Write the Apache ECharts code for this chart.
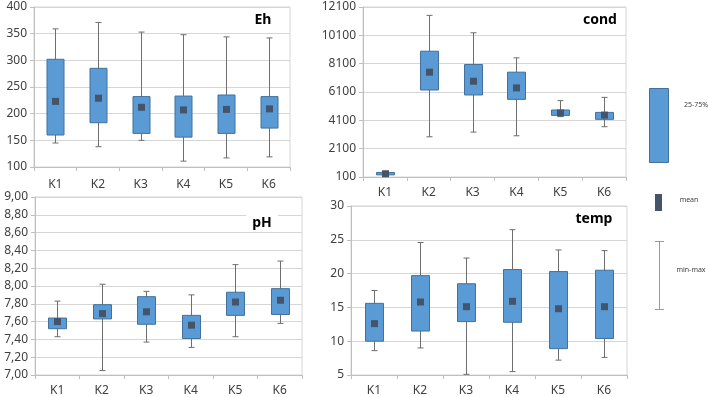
<!DOCTYPE html>
<html>
<head>
<meta charset="utf-8">
<script src="https://cdn.jsdelivr.net/npm/echarts@6/dist/echarts.min.js"></script>
<style>
  html, body { margin: 0; padding: 0; background: #fff; }
  #chart { width: 708px; height: 397px; }
</style>
</head>
<body>
<div id="chart"></div>
<script>
  var categories = ['K1', 'K2', 'K3', 'K4', 'K5', 'K6'];

  // Eh
  var ehMin = [145, 138, 150, 111, 117, 119];
  var ehQ1 = [160, 183, 163, 156, 163, 173];
  var ehMean = [223, 229, 212, 207, 208, 209];
  var ehQ3 = [302, 285, 232, 233, 235, 232];
  var ehMax = [359, 371, 353, 348, 344, 342];

  // cond
  var condMin = [200, 2940, 3270, 3010, 4360, 3650];
  var condQ1 = [250, 6240, 5890, 5580, 4450, 4170];
  var condMean = [330, 7500, 6860, 6390, 4620, 4470];
  var condQ3 = [420, 8980, 8040, 7500, 4830, 4660];
  var condMax = [480, 11510, 10280, 8510, 5490, 5720];

  // pH
  var phMin = [7.43, 7.05, 7.37, 7.31, 7.43, 7.58];
  var phQ1 = [7.52, 7.63, 7.57, 7.41, 7.67, 7.68];
  var phMean = [7.60, 7.69, 7.71, 7.56, 7.82, 7.84];
  var phQ3 = [7.64, 7.79, 7.88, 7.67, 7.93, 7.97];
  var phMax = [7.83, 8.02, 7.94, 7.90, 8.24, 8.28];

  // temp
  var tempMin = [8.6, 9.0, 5.1, 5.5, 7.2, 7.6];
  var tempQ1 = [10.0, 11.5, 12.9, 12.8, 8.9, 10.4];
  var tempMean = [12.6, 15.8, 15.1, 15.9, 14.8, 15.1];
  var tempQ3 = [15.6, 19.7, 18.5, 20.6, 20.3, 20.5];
  var tempMax = [17.5, 24.6, 22.3, 26.5, 23.5, 23.4];

  var boxFill = '#5B9BD5';
  var boxStroke = '#41719C';
  var meanColor = '#44546A';
  var whiskerColor = '#6E6E6E';
  var gridColor = '#D6D6D6';
  var textColor = '#404040';
  var fontFamily = 'Noto Sans';

  var myChart = echarts.init(document.getElementById('chart'));

  // cond axis runs 100..12100 in steps of 2000, so it is shifted by 100
  var condShift = 100;

  function buildRows (mins, q1s, means, q3s, maxs, shift) {
    var s = shift || 0;
    return categories.map(function (c, i) {
      return [i, mins[i] - s, q1s[i] - s, means[i] - s, q3s[i] - s, maxs[i] - s];
    });
  }

  function renderBox (params, api) {
    var i = api.value(0);
    var pMin = api.coord([i, api.value(1)]);
    var pQ1 = api.coord([i, api.value(2)]);
    var pMean = api.coord([i, api.value(3)]);
    var pQ3 = api.coord([i, api.value(4)]);
    var pMax = api.coord([i, api.value(5)]);
    var x = Math.round(pMin[0]) + 0.5;
    var bw = Math.round(api.size([1, 0])[0] * 0.4);
    var cap = 3;
    return {
      type: 'group',
      children: [
        { type: 'line', shape: { x1: x, y1: pMax[1], x2: x, y2: pMin[1] },
          style: { stroke: whiskerColor, lineWidth: 1 } },
        { type: 'line', shape: { x1: x - cap, y1: pMax[1], x2: x + cap, y2: pMax[1] },
          style: { stroke: whiskerColor, lineWidth: 1 } },
        { type: 'line', shape: { x1: x - cap, y1: pMin[1], x2: x + cap, y2: pMin[1] },
          style: { stroke: whiskerColor, lineWidth: 1 } },
        { type: 'rect', shape: { x: x - bw / 2, y: pQ3[1], width: bw, height: pQ1[1] - pQ3[1] },
          style: { fill: boxFill, stroke: boxStroke, lineWidth: 1 } },
        { type: 'rect', shape: { x: x - 3.5, y: pMean[1] - 3.5, width: 7, height: 7 },
          style: { fill: meanColor } }
      ]
    };
  }

  var grids = [
    { left: 34, top: 7, width: 256, height: 160 },
    { left: 363, top: 7, width: 263, height: 170 },
    { left: 35, top: 197, width: 267, height: 179 },
    { left: 351, top: 206, width: 276, height: 171 }
  ];
  grids.forEach(function (g) {
    g.show = true;
    g.borderColor = gridColor;
    g.borderWidth = 1;
  });

  function xAxisFor (idx, margin) {
    return {
      type: 'category',
      gridIndex: idx,
      data: categories,
      boundaryGap: true,
      axisLine: { lineStyle: { color: '#BFBFBF' } },
      axisTick: { show: true, length: 4, lineStyle: { color: '#BFBFBF' } },
      axisLabel: { margin: margin, fontSize: 12, color: textColor, fontFamily: fontFamily }
    };
  }

  function yAxisFor (idx, min, max, interval, fmt) {
    return {
      type: 'value',
      gridIndex: idx,
      min: min,
      max: max,
      interval: interval,
      axisLine: { show: true, lineStyle: { color: '#BFBFBF' } },
      axisTick: { show: true, length: 4, lineStyle: { color: '#BFBFBF' } },
      splitLine: { show: true, lineStyle: { color: gridColor, width: 1 } },
      axisLabel: { margin: 7, fontSize: 12, color: textColor, fontFamily: fontFamily, formatter: fmt }
    };
  }

  function titleText (text, x, y, bg) {
    return {
      type: 'text',
      x: x,
      y: y,
      z: 100,
      style: {
        text: text,
        align: 'center',
        verticalAlign: 'middle',
        font: 'bold 14px "Noto Sans"',
        fill: '#000',
        backgroundColor: bg ? '#fff' : null,
        padding: bg ? [2, 6] : 0
      }
    };
  }

  function legendText (text, x, y) {
    return {
      type: 'text', x: x, y: y, z: 100,
      style: { text: text, align: 'center', verticalAlign: 'middle',
        font: '7px "Noto Sans"', fill: textColor }
    };
  }

  var option = {
    animation: false,
    backgroundColor: '#fff',
    grid: grids,
    xAxis: [
      xAxisFor(0, 12),
      xAxisFor(1, 10),
      xAxisFor(2, 10),
      xAxisFor(3, 10)
    ],
    yAxis: [
      yAxisFor(0, 100, 400, 50),
      yAxisFor(1, 0, 12000, 2000, function (v) { return String(v + condShift); }),
      yAxisFor(2, 7, 9, 0.2, function (v) { return v.toFixed(2).replace('.', ','); }),
      yAxisFor(3, 5, 30, 5)
    ],
    series: [
      { name: 'Eh', type: 'custom', xAxisIndex: 0, yAxisIndex: 0, renderItem: renderBox,
        data: buildRows(ehMin, ehQ1, ehMean, ehQ3, ehMax) },
      { name: 'cond', type: 'custom', xAxisIndex: 1, yAxisIndex: 1, renderItem: renderBox,
        data: buildRows(condMin, condQ1, condMean, condQ3, condMax, condShift) },
      { name: 'pH', type: 'custom', xAxisIndex: 2, yAxisIndex: 2, renderItem: renderBox,
        data: buildRows(phMin, phQ1, phMean, phQ3, phMax) },
      { name: 'temp', type: 'custom', xAxisIndex: 3, yAxisIndex: 3, renderItem: renderBox,
        data: buildRows(tempMin, tempQ1, tempMean, tempQ3, tempMax) }
    ],
    graphic: [
      titleText('Eh', 263, 20, false),
      titleText('cond', 600, 20, false),
      titleText('pH', 262, 223, true),
      titleText('temp', 594, 219, false),
      // legend
      { type: 'rect', z: 100, shape: { x: 649.5, y: 88.5, width: 19, height: 74 },
        style: { fill: boxFill, stroke: boxStroke, lineWidth: 1 } },
      legendText('25-75%', 696, 105),
      { type: 'rect', z: 100, shape: { x: 655, y: 194, width: 7, height: 17 },
        style: { fill: meanColor } },
      legendText('mean', 689, 200),
      { type: 'line', z: 100, shape: { x1: 659.5, y1: 241, x2: 659.5, y2: 310 },
        style: { stroke: '#9A9A9A', lineWidth: 1 } },
      { type: 'line', z: 100, shape: { x1: 655, y1: 241.5, x2: 664, y2: 241.5 },
        style: { stroke: '#9A9A9A', lineWidth: 1 } },
      { type: 'line', z: 100, shape: { x1: 655, y1: 309.5, x2: 664, y2: 309.5 },
        style: { stroke: '#9A9A9A', lineWidth: 1 } },
      legendText('min-max', 691, 270)
    ]
  };

  myChart.setOption(option);
</script>
</body>
</html>
